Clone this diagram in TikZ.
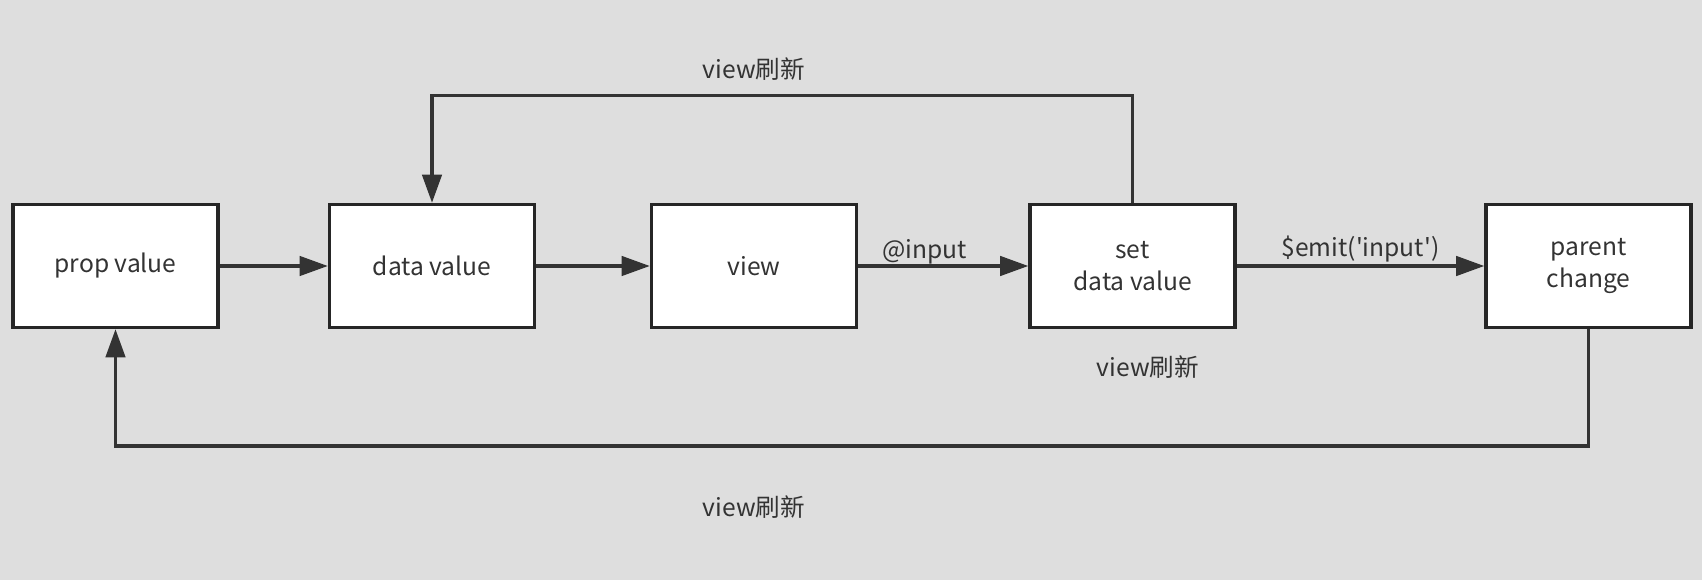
\documentclass[tikz,border=0pt]{standalone}
\usepackage{fontspec}
\setmainfont{Noto Sans CJK SC}[Ligatures=TeXOff]
\usepackage{tikz}
\usetikzlibrary{arrows.meta}
\definecolor{bggray}{HTML}{DEDEDE}
\definecolor{linegray}{HTML}{333333}
\tikzset{
  >={Triangle[length=16pt,width=11pt]},
}
\tikzstyle{block}=[draw=black!85,line width=1.9pt,fill=white,minimum width=4.1cm,minimum height=2.46cm,inner sep=0pt,align=center]
\tikzstyle{flow}=[draw=linegray,line width=1.9pt,->]
\tikzstyle{every node}=[font=\fontsize{14}{18.5}\selectfont,text=black!80]

\begin{document}
\begin{tikzpicture}
    \fill[bggray] (0,0) rectangle (34.04,11.6);
    \node[block] (prop) at (2.31,6.28) {\raisebox{-2pt}{prop value}};
    \node[block] (data) at (8.64,6.28) {\raisebox{-2pt}{data value}};
    \node[block] (view) at (15.08,6.28) {\raisebox{-2pt}{view}};
    \node[block] (set) at (22.65,6.28) {\raisebox{-2pt}{set}\\\raisebox{-2pt}{data value}};
    \node[block] (parent) at (31.77,6.28) {\raisebox{-2pt}{parent}\\\raisebox{-2pt}{change}};
    \coordinate (top) at (0,9.69);
    \coordinate (bot) at (0,2.68);
    \draw[flow] (prop) -- (data);
    \draw[flow] (data) -- (view);
    \draw[flow] (view) -- node[pos=.39,above=-3pt] (input) {@input} (set);
    \draw[flow] (set) -- node[midway,above=-2pt] (emit) {\$emit('input')} (parent);
    \draw[flow] (set.north) -- (set.north |- top) -| (data.north);
    \draw[flow] (parent.south) -- (parent.south |- bot) -| (prop.south);
    \node (toplabel) at (15.08,10.22) {view刷新};
    \node (midlabel) at (22.96,4.26) {view刷新};
    \node (botlabel) at (15.08,1.46) {view刷新};
  \end{tikzpicture}
\end{document}
